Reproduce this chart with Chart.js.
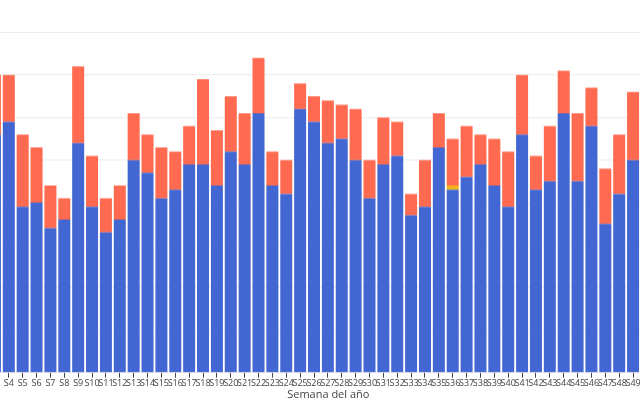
<!DOCTYPE html>
<html>
<head>
<meta charset="utf-8">
<script src="https://cdn.jsdelivr.net/npm/chart.js@4.4.1/dist/chart.umd.min.js"></script>
<style>
  html, body { margin: 0; padding: 0; background: #fff; }
  #frame { position: relative; width: 640px; height: 400px; overflow: hidden; }
  #holder { position: absolute; left: -31.8px; top: -10.2px; width: 692px; height: 412.9px; }
</style>
</head>
<body>
<div id="frame">
  <div id="holder"><canvas id="weeks"></canvas></div>
</div>
<script>
// weeks visible in the picture (S3 and S49 are cut by the frame)
const weeks = [
  "S3", "S4", "S5", "S6", "S7", "S8", "S9", "S10", "S11", "S12",
  "S13", "S14", "S15", "S16", "S17", "S18", "S19", "S20", "S21", "S22",
  "S23", "S24", "S25", "S26", "S27", "S28", "S29", "S30", "S31", "S32",
  "S33", "S34", "S35", "S36", "S37", "S38", "S39", "S40", "S41", "S42",
  "S43", "S44", "S45", "S46", "S47", "S48", "S49",
];

// blue segment (bottom)
const baseValues = [
  56, 59, 39, 40, 34, 36, 54, 39, 33, 36,
  50, 47, 41, 43, 49, 49, 44, 52, 49, 61,
  44, 42, 62, 59, 54, 55, 50, 41, 49, 51,
  37, 39, 53, 43, 46, 49, 44, 39, 56, 43,
  45, 61, 45, 58, 35, 42, 50,
];

// small yellow segment, only week 36 has one
const midValues = [
  0, 0, 0, 0, 0, 0, 0, 0, 0, 0,
  0, 0, 0, 0, 0, 0, 0, 0, 0, 0,
  0, 0, 0, 0, 0, 0, 0, 0, 0, 0,
  0, 0, 0, 1, 0, 0, 0, 0, 0, 0,
  0, 0, 0, 0, 0, 0, 0,
];

// orange segment (top)
const topValues = [
  14, 11, 17, 13, 10, 5, 18, 12, 8, 8,
  11, 9, 12, 9, 9, 20, 13, 13, 12, 13,
  8, 8, 6, 6, 10, 8, 12, 9, 11, 8,
  5, 11, 8, 11, 12, 7, 11, 13, 14, 8,
  13, 10, 16, 9, 13, 14, 16,
];

const yTicks = [0, 10, 20, 30, 40, 50, 60, 70, 80, 90];

const barStyle = {
  barPercentage: 0.865,
  categoryPercentage: 1,
  borderWidth: 0,
};

new Chart(document.getElementById("weeks"), {
  type: "bar",
  data: {
    labels: weeks,
    datasets: [
      { label: "Base", data: baseValues, backgroundColor: "#4267d2", ...barStyle },
      { label: "Intermedio", data: midValues, backgroundColor: "#f2b41c", ...barStyle },
      { label: "Extra", data: topValues, backgroundColor: "#ff6a50", ...barStyle },
    ],
  },
  options: {
    responsive: true,
    maintainAspectRatio: false,
    animation: false,
    layout: { padding: { left: 20, right: 20, top: 0, bottom: 0 } },
    plugins: {
      legend: { display: false },
      tooltip: { enabled: false },
    },
    scales: {
      x: {
        stacked: true,
        offset: true,
        border: { display: false },
        grid: {
          offset: false,
          drawOnChartArea: false,
          drawTicks: true,
          tickLength: 5,
          tickColor: "#444",
        },
        ticks: {
          autoSkip: false,
          maxRotation: 0,
          minRotation: 0,
          padding: 1,
          color: "#444",
          font: { family: "'Open Sans'", size: 9, lineHeight: 1 },
        },
        title: {
          display: true,
          text: "          Semana del año",
          color: "#444",
          font: { family: "'Open Sans'", size: 11 },
          padding: { top: 0, bottom: 2 },
        },
      },
      y: {
        stacked: true,
        min: yTicks[0],
        max: yTicks[yTicks.length - 1],
        border: { display: false },
        grid: { color: "#ebebeb", drawTicks: false },
        ticks: { display: false, stepSize: 10 },
      },
    },
  },
});
</script>
</body>
</html>
